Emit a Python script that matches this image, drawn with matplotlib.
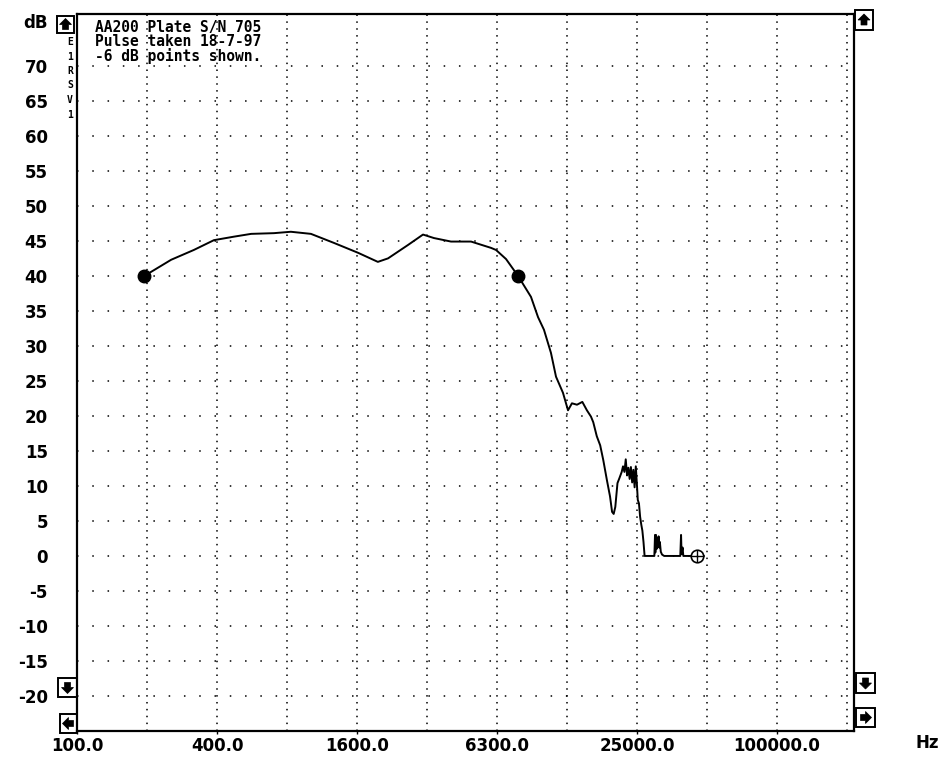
import numpy as np
import matplotlib.pyplot as plt
from matplotlib.patches import Rectangle, Polygon

W, H = 941, 758

# response curve (Hz, dB)
freq_hz = [195, 254, 318, 388, 473, 561, 703, 831, 1014, 1275, 1616, 1967, 2176,
           2648, 3076, 3429, 4059, 4949, 6030, 6340, 7000, 7880, 8960, 9610, 10190,
           10920, 11480, 12300, 12930, 13440, 14130, 14900, 15590, 16230, 16600,
           17190, 17780, 18330, 19010, 19600, 20000, 20320, 20650, 21100, 21500,
           22000, 22290, 22600, 22900, 23200, 23500, 23800, 24100, 24400, 24700,
           25000, 25300, 25600, 25800, 26100, 26400, 26700, 27000, 27300, 27600,
           30400, 30600, 30700, 30900, 31100, 31300, 31500, 31700, 31900, 32100,
           32400, 32800, 33500, 39300, 39600, 39800, 40200, 40500, 46300]
level_db = [40.0, 42.3, 43.7, 45.1, 45.6, 46.0, 46.1, 46.3, 46.0, 44.7, 43.3, 42.0, 42.5,
            44.4, 45.9, 45.4, 44.9, 44.9, 44.0, 43.7, 42.4, 40.0, 37.0, 34.1, 32.3,
            29.0, 25.6, 23.3, 20.8, 21.8, 21.6, 22.0, 20.8, 19.9, 19.1,
            17.1, 15.8, 13.7, 10.8, 8.5, 6.3, 6.0, 7.0, 10.4, 11.1,
            12.0, 12.8, 12.0, 13.8, 11.5, 12.6, 11.0, 12.7, 10.5, 12.3,
            9.8, 12.8, 10.0, 8.0, 7.5, 5.6, 4.5, 3.6, 2.0, 0.0,
            0.0, 3.0, 0.5, 3.0, 1.0, 2.5, 1.5, 2.8, 1.2, 2.0,
            0.6, 0.2, 0.0, 0.0, 3.0, 0.3, 1.2, 0.0, 0.0]

minus6_freq = [195, 7880]
minus6_db = [40, 40]
end_freq = [46300]
end_db = [0]

grid_freqs = [200, 400, 800, 1600, 3200, 6400, 12800, 25600, 51200, 102400, 204800]
tick_freqs = [100, 400, 1600, 6400, 25600, 102400]
tick_labels = ["100.0", "400.0", "1600.0", "6300.0", "25000.0", "100000.0"]
ytick_vals = list(range(-20, 75, 5))
title_lines = ["AA200 Plate S/N 705", "Pulse taken 18-7-97", "-6 dB points shown."]
side_chars = ["E", "1", "R", "S", "V", "1"]


def px(x, y):
    return x / W, 1 - y / H


fig = plt.figure(figsize=(W / 100, H / 100), dpi=100)
x0, y0 = px(77, 731)
x1, y1 = px(854, 14)
ax = fig.add_axes([x0, y0, x1 - x0, y1 - y0])

ax.set_xscale("log")
ax.set_xlim(100, 100 * 2 ** (777 / 70))
ax.set_ylim(-25, 77.4)

for f in grid_freqs:
    ax.axvline(f, color="black", lw=1.1, ls=(0, (1, 3.5)), zorder=1)
for v in ytick_vals:
    ax.axhline(v, color="black", lw=1.1, ls=(0, (1, 9)), zorder=1)

ax.plot(freq_hz, level_db, color="black", lw=1.4, zorder=3)
ax.plot(minus6_freq, minus6_db, "o", color="black", ms=9, zorder=4)
ax.plot(end_freq, end_db, "o", mfc="white", mec="black", ms=9, mew=1.2, zorder=4)
ax.plot(end_freq, end_db, "+", color="black", ms=9, mew=1.0, zorder=5)

font = {"family": "DejaVu Sans", "weight": "bold", "size": 12}
ax.set_xticks(tick_freqs)
ax.set_xticklabels(tick_labels, fontdict=font)
ax.xaxis.set_minor_locator(plt.NullLocator())
ax.tick_params(axis="x", length=2, width=1, pad=2)
ax.set_yticks(ytick_vals)
ax.set_yticklabels([str(v) for v in ytick_vals], fontdict=font)
ax.tick_params(axis="y", length=0, pad=21)

for s in ax.spines.values():
    s.set_linewidth(1.6)

fig.text(*px(35, 23), "dB", ha="center", va="center", **font)
fig.text(*px(927, 743), "Hz", ha="center", va="center", **font)

for i, line in enumerate(title_lines):
    fig.text(*px(95, 32 + i * 14.5), line, ha="left", va="baseline",
             family="DejaVu Sans Mono", weight="bold", size=10.5, zorder=6)

for i, ch in enumerate(side_chars):
    fig.text(*px(70, 42 + i * 14.5), ch, ha="center", va="center",
             family="DejaVu Sans Mono", weight="bold", size=7)


# scroll buttons round the plot frame
def button(bx0, by0, bx1, by1, direction):
    fx0, fy1 = px(bx0, by0)
    fx1, fy0 = px(bx1, by1)
    fig.add_artist(Rectangle((fx0, fy0), fx1 - fx0, fy1 - fy0, transform=fig.transFigure,
                             fill=False, ec="black", lw=1.4))
    cx, cy = (bx0 + bx1) / 2, (by0 + by1) / 2
    shape = np.array([(0, -6), (6, 0), (3, 0), (3, 5), (-3, 5), (-3, 0), (-6, 0)], float)
    rot = {"up": 0, "right": 90, "down": 180, "left": 270}[direction]
    a = np.deg2rad(rot)
    xs = shape[:, 0] * np.cos(a) - shape[:, 1] * np.sin(a)
    ys = shape[:, 0] * np.sin(a) + shape[:, 1] * np.cos(a)
    pts = [px(cx + u, cy + v) for u, v in zip(xs, ys)]
    fig.add_artist(Polygon(pts, closed=True, transform=fig.transFigure,
                           fc="black", ec="black", lw=0.5))


button(57, 16, 74, 33, "up")
button(58, 678, 77, 697, "down")
button(60, 714, 77, 733, "left")
button(855, 10, 873, 30, "up")
button(856, 673, 875, 693, "down")
button(856, 708, 875, 727, "right")

fig.savefig("out.png", dpi=100)
